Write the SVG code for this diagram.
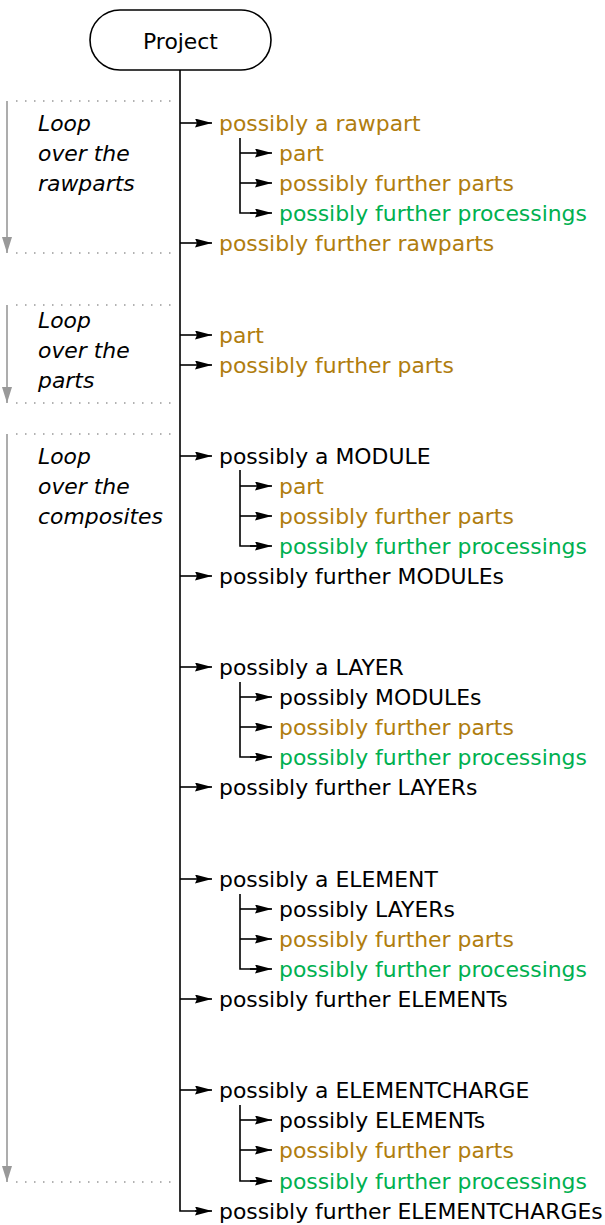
<svg xmlns="http://www.w3.org/2000/svg" width="605" height="1225" viewBox="0 0 605 1225">
<style>
text{font-family:"DejaVu Sans","Verdana",sans-serif;font-size:21.9px;}
.k{fill:#000}
.b{fill:#b07d0e}
.g{fill:#00b050}
.loop{font-style:italic;fill:#000}
.ln{stroke:#000;stroke-width:1.6;fill:none}
.a{stroke:#000;stroke-width:1.6;fill:none;marker-end:url(#ah)}
.dot{stroke:#999;stroke-width:1.5;stroke-dasharray:1.5 7.5;fill:none}
.ga{stroke:#999;stroke-width:1.6;fill:none;marker-end:url(#gh)}
</style>
<defs>
<marker id="ah" markerWidth="17" markerHeight="9" refX="17" refY="4.5" orient="auto" markerUnits="userSpaceOnUse"><path d="M0,0 L17,4.5 L0,9 L2,4.5 z" fill="#000"/></marker>
<marker id="gh" markerWidth="16" markerHeight="10" refX="16" refY="5" orient="auto" markerUnits="userSpaceOnUse"><path d="M0,0 L16,5 L0,10 z" fill="#999"/></marker>
</defs>
<g id="project"><rect x="90" y="10" width="181" height="60" rx="30" ry="30" fill="#fff" stroke="#000" stroke-width="1.6"/><text x="180.5" y="49" text-anchor="middle" class="k">Project</text></g>
<g id="loops">
<path class="dot" d="M16,101 H178 M16,253 H178"/><line class="ga" x1="7" y1="101" x2="7" y2="253"/>
<path class="dot" d="M16,305 H178 M16,403 H178"/><line class="ga" x1="7" y1="305" x2="7" y2="403"/>
<path class="dot" d="M16,434 H178 M16,1182 H178"/><line class="ga" x1="7" y1="434" x2="7" y2="1182"/>
</g>
<g id="connectors">
<path class="ln" d="M180,70 V1211 H200"/>
<line class="a" x1="180" y1="123" x2="212" y2="123"/>
<line class="a" x1="180" y1="243" x2="212" y2="243"/>
<line class="a" x1="180" y1="335" x2="212" y2="335"/>
<line class="a" x1="180" y1="365" x2="212" y2="365"/>
<line class="a" x1="180" y1="456" x2="212" y2="456"/>
<line class="a" x1="180" y1="576" x2="212" y2="576"/>
<line class="a" x1="180" y1="667" x2="212" y2="667"/>
<line class="a" x1="180" y1="787" x2="212" y2="787"/>
<line class="a" x1="180" y1="879" x2="212" y2="879"/>
<line class="a" x1="180" y1="999" x2="212" y2="999"/>
<line class="a" x1="180" y1="1090" x2="212" y2="1090"/>
<line class="a" x1="195" y1="1211" x2="212" y2="1211"/>
<path class="ln" d="M240,138 V213 H260 M240,470 V546 H260 M240,682 V757 H260 M240,894 V969 H260 M240,1105 V1181 H260"/>
<line class="a" x1="240" y1="153" x2="272" y2="153"/>
<line class="a" x1="240" y1="183" x2="272" y2="183"/>
<line class="a" x1="250" y1="213" x2="272" y2="213"/>
<line class="a" x1="240" y1="486" x2="272" y2="486"/>
<line class="a" x1="240" y1="516" x2="272" y2="516"/>
<line class="a" x1="250" y1="546" x2="272" y2="546"/>
<line class="a" x1="240" y1="697" x2="272" y2="697"/>
<line class="a" x1="240" y1="727" x2="272" y2="727"/>
<line class="a" x1="250" y1="757" x2="272" y2="757"/>
<line class="a" x1="240" y1="909" x2="272" y2="909"/>
<line class="a" x1="240" y1="939" x2="272" y2="939"/>
<line class="a" x1="250" y1="969" x2="272" y2="969"/>
<line class="a" x1="240" y1="1120" x2="272" y2="1120"/>
<line class="a" x1="240" y1="1150" x2="272" y2="1150"/>
<line class="a" x1="250" y1="1181" x2="272" y2="1181"/>
</g>
<g id="loop1"><text class="loop" x="38" y="131">Loop</text><text class="loop" x="38" y="161">over the</text><text class="loop" x="38" y="191">rawparts</text></g>
<g id="loop2"><text class="loop" x="38" y="328">Loop</text><text class="loop" x="38" y="358">over the</text><text class="loop" x="38" y="388">parts</text></g>
<g id="loop3"><text class="loop" x="38" y="464">Loop</text><text class="loop" x="38" y="494">over the</text><text class="loop" x="38" y="524">composites</text></g>
<g id="rawpart"><text class="b" x="219" y="131">possibly a rawpart</text><text class="b" x="279" y="161">part</text><text class="b" x="279" y="191">possibly further parts</text><text class="g" x="279" y="221">possibly further processings</text><text class="b" x="219" y="251">possibly further rawparts</text></g>
<g id="parts"><text class="b" x="219" y="343">part</text><text class="b" x="219" y="373">possibly further parts</text></g>
<g id="module"><text class="k" x="219" y="464">possibly a MODULE</text><text class="b" x="279" y="494">part</text><text class="b" x="279" y="524">possibly further parts</text><text class="g" x="279" y="554">possibly further processings</text><text class="k" x="219" y="584">possibly further MODULEs</text></g>
<g id="layer"><text class="k" x="219" y="675">possibly a LAYER</text><text class="k" x="279" y="705">possibly MODULEs</text><text class="b" x="279" y="735">possibly further parts</text><text class="g" x="279" y="765">possibly further processings</text><text class="k" x="219" y="795">possibly further LAYERs</text></g>
<g id="element"><text class="k" x="219" y="887">possibly a ELEMENT</text><text class="k" x="279" y="917">possibly LAYERs</text><text class="b" x="279" y="947">possibly further parts</text><text class="g" x="279" y="977">possibly further processings</text><text class="k" x="219" y="1007">possibly further ELEMENTs</text></g>
<g id="elementcharge"><text class="k" x="219" y="1098">possibly a ELEMENTCHARGE</text><text class="k" x="279" y="1128">possibly ELEMENTs</text><text class="b" x="279" y="1158">possibly further parts</text><text class="g" x="279" y="1189">possibly further processings</text><text class="k" x="219" y="1219">possibly further ELEMENTCHARGEs</text></g>
</svg>
